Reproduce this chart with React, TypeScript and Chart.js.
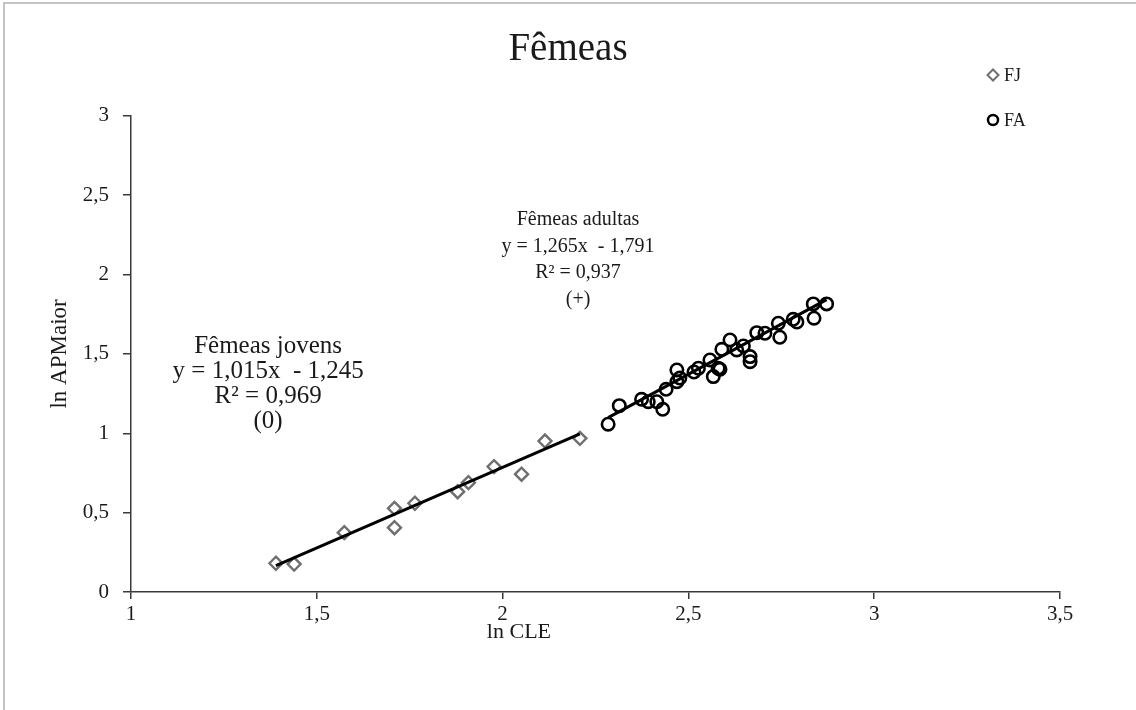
import React, { useEffect, useRef } from 'react';
import { Chart, registerables } from 'chart.js';

Chart.register(...registerables);

// ---- data ----
const fjX = [1.390, 1.439, 1.574, 1.709, 1.709, 1.764, 1.879, 1.908, 1.977, 2.051, 2.114, 2.208];
const fjY = [0.181, 0.176, 0.374, 0.527, 0.405, 0.559, 0.632, 0.689, 0.790, 0.742, 0.951, 0.968];

const faX = [2.284, 2.314, 2.374, 2.392, 2.415, 2.431, 2.440, 2.469, 2.469, 2.477, 2.515, 2.527, 2.558, 2.567, 2.580, 2.585,
  2.590, 2.612, 2.630, 2.648, 2.666, 2.666, 2.684, 2.706, 2.742, 2.746, 2.782, 2.792, 2.836, 2.838, 2.872];
const faY = [1.057, 1.174, 1.214, 1.199, 1.199, 1.151, 1.277, 1.399, 1.325, 1.348, 1.386, 1.410, 1.462, 1.357, 1.410, 1.403,
  1.529, 1.588, 1.525, 1.550, 1.483, 1.451, 1.634, 1.630, 1.693, 1.605, 1.718, 1.701, 1.815, 1.725, 1.815];

const fjFit = [1.015, -1.245]; // slope, intercept
const faFit = [1.265, -1.791];

const xTicks = [1, 1.5, 2, 2.5, 3, 3.5];
const yTicks = [0, 0.5, 1, 1.5, 2, 2.5, 3];

const seriesNames = ['FJ', 'FA'];
const chartTitle = 'Fêmeas';
const xTitle = 'ln CLE';
const yTitle = 'ln APMaior';
const fjNote = ['Fêmeas jovens', 'y = 1,015x  - 1,245', 'R² = 0,969', '(0)'];
const faNote = ['Fêmeas adultas', 'y = 1,265x  - 1,791', 'R² = 0,937', '(+)'];

const SERIF = '"Liberation Serif", "Times New Roman", serif';
const TXT = '#1a1a1a';
const AXIS = '#3a3a3a';
const FJ_COLOR = '#6f6f6f';
const FA_COLOR = '#000000';

const fmt = (v: number) => String(v).replace('.', ',');

function fitLine(xs: number[], fit: number[]) {
  const lo = Math.min(...xs);
  const hi = Math.max(...xs);
  return [
    { x: lo, y: fit[0] * lo + fit[1] },
    { x: hi, y: fit[0] * hi + fit[1] },
  ];
}

const overlayPlugin = {
  id: 'overlay',
  afterDraw(chart: any) {
    const ctx = chart.ctx as CanvasRenderingContext2D;
    const xs = chart.scales.x;
    const ys = chart.scales.y;
    ctx.save();
    ctx.fillStyle = TXT;
    ctx.textAlign = 'center';
    ctx.textBaseline = 'middle';

    // regression notes
    ctx.font = `25px ${SERIF}`;
    const jx = xs.getPixelForValue(1.369);
    const jy = ys.getPixelForValue(1.55);
    fjNote.forEach((t, i) => ctx.fillText(t, jx, jy + i * 25));

    ctx.font = `20px ${SERIF}`;
    const ax = xs.getPixelForValue(2.203);
    const ay = ys.getPixelForValue(2.344);
    faNote.forEach((t, i) => ctx.fillText(t, ax, ay + i * 26.5));

    // x axis title
    ctx.font = `22px ${SERIF}`;
    ctx.fillText(xTitle, xs.getPixelForValue(2.044), chart.chartArea.bottom + 40);

    // legend
    ctx.font = `18px ${SERIF}`;
    ctx.textAlign = 'left';
    const lx = 993;
    const rows = [75, 120];
    // FJ diamond
    ctx.strokeStyle = FJ_COLOR;
    ctx.lineWidth = 2;
    ctx.beginPath();
    ctx.moveTo(lx, rows[0] - 5.5);
    ctx.lineTo(lx + 5.5, rows[0]);
    ctx.lineTo(lx, rows[0] + 5.5);
    ctx.lineTo(lx - 5.5, rows[0]);
    ctx.closePath();
    ctx.stroke();
    ctx.fillText(seriesNames[0], lx + 11, rows[0] + 1);
    // FA circle
    ctx.strokeStyle = FA_COLOR;
    ctx.lineWidth = 2.5;
    ctx.beginPath();
    ctx.arc(lx, rows[1], 5, 0, Math.PI * 2);
    ctx.stroke();
    ctx.fillText(seriesNames[1], lx + 11, rows[1] + 1);
    ctx.restore();
  },
};

export default function App() {
  const ref = useRef<HTMLCanvasElement | null>(null);

  useEffect(() => {
    if (!ref.current) return;
    const chart = new Chart(ref.current, {
      type: 'scatter',
      data: {
        datasets: [
          {
            type: 'line',
            label: 'FJ fit',
            data: fitLine(fjX, fjFit),
            borderColor: '#000',
            borderWidth: 3,
            pointRadius: 0,
            fill: false,
            order: 0,
          },
          {
            type: 'line',
            label: 'FA fit',
            data: fitLine(faX, faFit),
            borderColor: '#000',
            borderWidth: 3,
            pointRadius: 0,
            fill: false,
            order: 0,
          },
          {
            label: seriesNames[0],
            data: fjX.map((x, i) => ({ x, y: fjY[i] })),
            pointStyle: 'rectRot',
            pointRadius: 6.5,
            borderColor: FJ_COLOR,
            borderWidth: 2.4,
            backgroundColor: 'rgba(0,0,0,0)',
            order: 1,
          },
          {
            label: seriesNames[1],
            data: faX.map((x, i) => ({ x, y: faY[i] })),
            pointStyle: 'circle',
            pointRadius: 6.2,
            borderColor: FA_COLOR,
            borderWidth: 2.6,
            backgroundColor: 'rgba(0,0,0,0)',
            order: 1,
          },
        ],
      },
      options: {
        animation: false,
        responsive: false,
        devicePixelRatio: 1,
        layout: { padding: { left: 0, right: 0, top: 0, bottom: 0 } },
        plugins: {
          legend: { display: false },
          tooltip: { enabled: false },
          title: {
            display: true,
            text: chartTitle,
            color: TXT,
            font: { family: SERIF, size: 39, weight: 'normal' },
            padding: { top: 26, bottom: 43 },
          },
        },
        scales: {
          x: {
            type: 'linear',
            position: 'bottom',
            min: 1,
            max: 3.5,
            afterBuildTicks: (s: any) => {
              s.ticks = xTicks.map((v) => ({ value: v }));
            },
            afterFit: (s: any) => {
              s.height = 118;
            },
            ticks: {
              color: TXT,
              font: { family: SERIF, size: 21 },
              padding: 3,
              maxRotation: 0,
              callback: (v: any) => fmt(v),
            },
            grid: { drawOnChartArea: false, drawTicks: true, tickLength: 7, color: AXIS, lineWidth: 1.5 },
            border: { display: true, color: AXIS, width: 1.5 },
          },
          y: {
            type: 'linear',
            position: 'left',
            min: 0,
            max: 3,
            afterBuildTicks: (s: any) => {
              s.ticks = yTicks.map((v) => ({ value: v }));
            },
            afterFit: (s: any) => {
              s.width = 131;
            },
            ticks: {
              color: TXT,
              font: { family: SERIF, size: 21 },
              padding: 14,
              callback: (v: any) => fmt(v),
            },
            grid: { drawOnChartArea: false, drawTicks: true, tickLength: 8, color: AXIS, lineWidth: 1.5 },
            border: { display: true, color: AXIS, width: 1.5 },
            title: {
              display: true,
              text: yTitle,
              color: TXT,
              font: { family: SERIF, size: 23 },
              padding: { top: 46, bottom: 0 },
            },
          },
          y2: {
            type: 'linear',
            position: 'right',
            display: true,
            min: 0,
            max: 3,
            afterFit: (s: any) => {
              s.width = 76;
            },
            ticks: { display: false },
            grid: { display: false, drawTicks: false },
            border: { display: false },
          },
        },
      },
      plugins: [overlayPlugin],
    } as any);
    return () => chart.destroy();
  }, []);

  return (
    <div style={{ position: 'fixed', left: 0, top: 0, width: 1136, height: 710, background: '#fff', overflow: 'hidden' }}>
      <div
        style={{
          position: 'absolute',
          left: 3,
          top: 2,
          width: 1200,
          height: 800,
          borderTop: '2px solid #c4c4c4',
          borderLeft: '2px solid #c4c4c4',
        }}
      />
      <canvas ref={ref} width={1136} height={710} style={{ position: 'absolute', left: 0, top: 0 }} />
    </div>
  );
}
